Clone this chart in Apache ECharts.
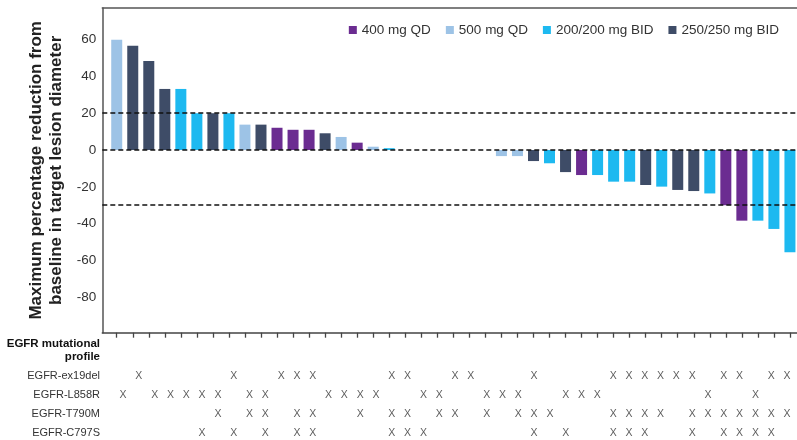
<!DOCTYPE html>
<html>
<head>
<meta charset="utf-8">
<script src="https://cdn.jsdelivr.net/npm/echarts@6/dist/echarts.min.js"></script>
<style>
  html, body { margin: 0; padding: 0; background: #fff; }
  #chart { width: 797px; height: 440px; }
</style>
</head>
<body>
<div id="chart"></div>
<script>
// ---- data ----
const doseGroups = ['400 mg QD', '500 mg QD', '200/200 mg BID', '250/250 mg BID'];
const groupColors = ['#6B2C91', '#9DC3E6', '#1DB9F0', '#3E4C67'];

// maximum % change per patient (sorted waterfall order)
const changeValues = [60, 56.7, 48.4, 33.2, 33.2, 20, 20, 20, 13.8, 13.8, 12.1, 11, 11, 9.1, 7.1, 4, 1.8, 1,
  0, 0, 0, 0, 0, 0,
  -3.3, -3.3, -6, -7.2, -12, -13.6, -13.6, -17.2, -17.2, -19, -19.9, -21.7, -22.3, -23.6, -30, -38.4, -38.4, -42.9, -55.6];
// dose group per patient ('' = no visible bar)
const patientDose = ['500 mg QD', '250/250 mg BID', '250/250 mg BID', '250/250 mg BID', '200/200 mg BID', '200/200 mg BID',
  '250/250 mg BID', '200/200 mg BID', '500 mg QD', '250/250 mg BID', '400 mg QD', '400 mg QD', '400 mg QD', '250/250 mg BID',
  '500 mg QD', '400 mg QD', '500 mg QD', '200/200 mg BID',
  '', '', '', '', '', '',
  '500 mg QD', '500 mg QD', '250/250 mg BID', '200/200 mg BID', '250/250 mg BID', '400 mg QD', '200/200 mg BID',
  '200/200 mg BID', '200/200 mg BID', '250/250 mg BID', '200/200 mg BID', '250/250 mg BID', '250/250 mg BID',
  '200/200 mg BID', '400 mg QD', '400 mg QD', '200/200 mg BID', '200/200 mg BID', '200/200 mg BID'];

const referenceLines = [20, 0, -30];
const yTickLabels = [-80, -60, -40, -20, 0, 20, 40, 60];

// mutational profile table (patient indices with an X)
const mutationRows = ['EGFR-ex19del', 'EGFR-L858R', 'EGFR-T790M', 'EGFR-C797S'];
const ex19delPatients = [1, 7, 10, 11, 12, 17, 18, 21, 22, 26, 31, 32, 33, 34, 35, 36, 38, 39, 41, 42];
const l858rPatients = [0, 2, 3, 4, 5, 6, 8, 9, 13, 14, 15, 16, 19, 20, 23, 24, 25, 28, 29, 30, 37, 40];
const t790mPatients = [6, 8, 9, 11, 12, 15, 17, 18, 20, 21, 23, 25, 26, 27, 31, 32, 33, 34, 36, 37, 38, 39, 40, 41, 42];
const c797sPatients = [5, 7, 9, 11, 12, 17, 18, 19, 26, 28, 31, 32, 33, 36, 38, 39, 40, 41];

// ---- chart ----
const FONT = 'Liberation Sans, Arial, Helvetica, sans-serif';
const N = changeValues.length;
const patientIdx = changeValues.map((_, i) => i);
const xMin = -0.9, xMax = N - 1 + 0.44;

const barSeries = doseGroups.map((g, gi) => ({
  name: g,
  type: 'bar',
  xAxisIndex: 0,
  yAxisIndex: 0,
  stack: 'all',
  barWidth: 11,
  itemStyle: { color: groupColors[gi] },
  data: changeValues.map((v, i) => [i, patientDose[i] === g ? v : null]),
  z: 2
}));

barSeries.push({
  name: 'ref',
  type: 'line',
  xAxisIndex: 0,
  yAxisIndex: 0,
  data: [],
  silent: true,
  markLine: {
    symbol: 'none',
    silent: true,
    label: { show: false },
    lineStyle: { color: '#111', type: [5, 3], width: 1.5 },
    data: referenceLines.map(v => ({ yAxis: v }))
  },
  z: 5
});

const tableRowsData = [ex19delPatients, l858rPatients, t790mPatients, c797sPatients];
const tableData = [];
tableRowsData.forEach((arr, r) => arr.forEach(k => tableData.push([k, mutationRows[r]])));

const chart = echarts.init(document.getElementById('chart'), null, { renderer: 'canvas' });
chart.setOption({
  animation: false,
  textStyle: { fontFamily: FONT },
  legend: {
    data: doseGroups,
    right: 13,
    top: 18,
    icon: 'rect',
    itemWidth: 8,
    itemHeight: 8,
    itemGap: 15,
    textStyle: { fontSize: 13.5, color: '#333', fontFamily: FONT }
  },
  grid: [
    { left: 102.3, right: 0, top: 8, height: 324.7, outerBoundsMode: 'none', containLabel: false },
    { left: 108.8, right: 3, top: 366.5, height: 76, outerBoundsMode: 'none', containLabel: false }
  ],
  xAxis: [
    {
      type: 'value', gridIndex: 0, min: xMin, max: xMax, position: 'bottom',
      axisLine: { show: true, onZero: false, lineStyle: { color: '#444', width: 1.5 } },
      axisTick: { show: true, customValues: patientIdx, length: 5, lineStyle: { color: '#444', width: 1.3 } },
      axisLabel: { show: false },
      splitLine: { show: false }
    },
    {
      type: 'value', gridIndex: 0, min: xMin, max: xMax, position: 'top',
      axisLine: { show: true, onZero: false, lineStyle: { color: '#555', width: 1.5 } },
      axisTick: { show: false }, axisLabel: { show: false }, splitLine: { show: false }
    },
    {
      type: 'value', gridIndex: 1, min: xMin, max: xMax, show: false
    }
  ],
  yAxis: [
    {
      type: 'value', gridIndex: 0, min: -99.3, max: 77.2,
      name: 'Maximum percentage reduction from\nbaseline in target lesion diameter',
      nameLocation: 'middle',
      nameGap: 36,
      nameTextStyle: { fontSize: 17, fontWeight: 'bold', color: '#222', lineHeight: 20, fontFamily: FONT },
      axisLine: { show: true, onZero: false, lineStyle: { color: '#555', width: 1.5 } },
      axisTick: { show: false },
      axisLabel: { customValues: yTickLabels, fontSize: 13.5, color: '#333', margin: 6, fontFamily: FONT },
      splitLine: { show: false }
    },
    {
      type: 'category', gridIndex: 1, data: mutationRows, inverse: true,
      axisLine: { show: false }, axisTick: { show: false },
      axisLabel: { fontSize: 11, color: '#333', margin: 8.8, fontFamily: FONT },
      splitLine: { show: false }
    }
  ],
  graphic: [
    {
      type: 'text', x: 100, y: 337,
      style: {
        text: 'EGFR mutational\nprofile', align: 'right', verticalAlign: 'top', fill: '#111',
        font: 'bold 11.5px ' + FONT, lineHeight: 13.5
      }
    }
  ],
  series: barSeries.concat([{
    type: 'scatter',
    xAxisIndex: 2,
    yAxisIndex: 1,
    symbolSize: 1,
    itemStyle: { color: 'rgba(0,0,0,0)' },
    silent: true,
    label: { show: true, position: 'inside', formatter: 'X', fontSize: 10.5, color: '#333', fontFamily: FONT },
    data: tableData
  }])
});
</script>
</body>
</html>
